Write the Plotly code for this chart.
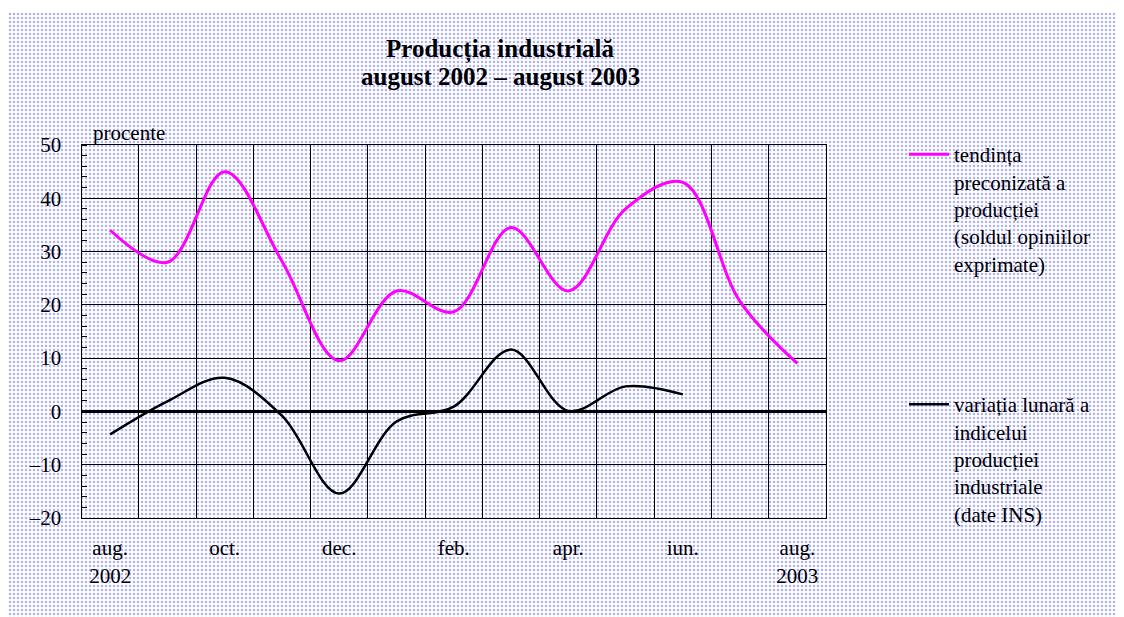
import plotly.graph_objects as go

# months on the x axis (aug 2002 - aug 2003)
months = ["aug. 2002", "sep. 2002", "oct. 2002", "nov. 2002", "dec. 2002",
          "ian. 2003", "feb. 2003", "mar. 2003", "apr. 2003", "mai 2003",
          "iun. 2003", "iul. 2003", "aug. 2003"]
month_labels = ["aug.<br>2002", "", "oct.", "", "dec.", "", "feb.", "",
                "apr.", "", "iun.", "", "aug.<br>2003"]

# tendinta preconizata a productiei (soldul opiniilor exprimate)
tendinta = [34, 28, 45, 28.2, 9.5, 22.6, 18.7, 34.5, 22.6, 38, 43, 20.6, 9]
# variatia lunara a indicelui productiei industriale (date INS)
variatia = [-4.3, 1.9, 6.3, -0.8, -15.4, -1.9, 0.9, 11.6, 0.1, 4.7, 3.2, None, None]

y_ticks = [-20, -10, 0, 10, 20, 30, 40, 50]
y_tick_text = ["\u201320", "\u201310", "0", "10", "20", "30", "40", "50"]

name_tend = "tendința<br>preconizată a<br>producției<br>(soldul opiniilor<br>exprimate)"
name_var = "variația lunară a<br>indicelui<br>producției<br>industriale<br>(date INS)"

# the page body keeps an 8px margin, so the figure is sized to fit the window
OFF = 8
W, H = 1124 - OFF, 617 - OFF
serif = "Liberation Serif, Times New Roman, serif"


def px(x):
    # page pixel -> paper fraction (x)
    return (x - OFF) / W


def py(y):
    # page pixel -> paper fraction (y)
    return 1 - (y - OFF) / H


fig = go.Figure()

# dotted page background, drawn as a patterned bar on a hidden first subplot
fig.add_trace(go.Bar(
    x=[0.5], y=[1], width=[1],
    marker=dict(color="white", line_width=0,
                pattern=dict(shape=".", fgcolor="#5f5ff0", bgcolor="white",
                             size=4, solidity=0.3)),
    hoverinfo="skip", showlegend=False, xaxis="x", yaxis="y"))

fig.add_trace(go.Scatter(
    x=months, y=tendinta, mode="lines", name=name_tend,
    line=dict(color="#ff00ff", width=3, shape="spline", smoothing=1),
    xaxis="x2", yaxis="y2", legend="legend"))

fig.add_trace(go.Scatter(
    x=months, y=variatia, mode="lines", name=name_var,
    line=dict(color="black", width=2.5, shape="spline", smoothing=1),
    xaxis="x2", yaxis="y2", legend="legend2"))

fig.update_layout(
    width=W, height=H,
    margin=dict(l=0, r=0, t=0, b=0, autoexpand=False),
    paper_bgcolor="white",
    plot_bgcolor="rgba(0,0,0,0)",
    font=dict(family=serif, size=21, color="black"),
    xaxis=dict(domain=[0, 1], range=[0, 1], visible=False,
               fixedrange=True, automargin=False),
    yaxis=dict(domain=[0, py(12)], range=[0, 1], visible=False,
               fixedrange=True, automargin=False),
    xaxis2=dict(
        domain=[px(81.5), px(826)], anchor="y2", type="category", automargin=False,
        categoryorder="array", categoryarray=months, range=[-0.5, 12.5],
        tickmode="array", tickvals=months, ticktext=month_labels,
        tickson="boundaries", ticks="", ticklabelstandoff=11,
        showgrid=True, gridcolor="black", gridwidth=1,
        showline=True, linecolor="black", linewidth=1, mirror=True,
        tickfont=dict(family=serif, size=21),
    ),
    yaxis2=dict(
        domain=[py(518), py(145)], anchor="x2", range=[-20, 50], automargin=False,
        tickmode="array", tickvals=y_ticks, ticktext=y_tick_text,
        ticks="", ticklabelstandoff=15,
        showgrid=True, gridcolor="black", gridwidth=1,
        zeroline=True, zerolinecolor="black", zerolinewidth=2.5,
        showline=True, linecolor="black", linewidth=1, mirror=True,
        minor=dict(dtick=2, ticks="inside", ticklen=5, tickcolor="black",
                   showgrid=False),
        tickfont=dict(family=serif, size=21),
    ),
    legend=dict(x=px(904), y=py(134), xanchor="left", yanchor="top",
                bgcolor="rgba(0,0,0,0)", valign="top",
                font=dict(family=serif, size=21), itemwidth=40),
    legend2=dict(x=px(904), y=py(384), xanchor="left", yanchor="top",
                 bgcolor="rgba(0,0,0,0)", valign="top",
                 font=dict(family=serif, size=21), itemwidth=40),
    showlegend=True,
)

# white plot area on top of the dotted background
fig.add_shape(type="rect", xref="x2 domain", yref="y2 domain",
              x0=0, x1=1, y0=0, y1=1, fillcolor="white",
              line_width=0, layer="below")

fig.add_annotation(text="<b>Producția industrială</b>", xref="paper", yref="paper",
                   x=px(500), y=py(49.5), showarrow=False,
                   xanchor="center", yanchor="middle",
                   font=dict(family=serif, size=25))
fig.add_annotation(text="<b>august 2002 – august 2003</b>", xref="paper", yref="paper",
                   x=px(500), y=py(76.5), showarrow=False,
                   xanchor="center", yanchor="middle",
                   font=dict(family=serif, size=25))
fig.add_annotation(text="procente", xref="paper", yref="paper",
                   x=px(91), y=py(133), showarrow=False,
                   xanchor="left", yanchor="middle",
                   font=dict(family=serif, size=21))

fig.write_html("out.html")
